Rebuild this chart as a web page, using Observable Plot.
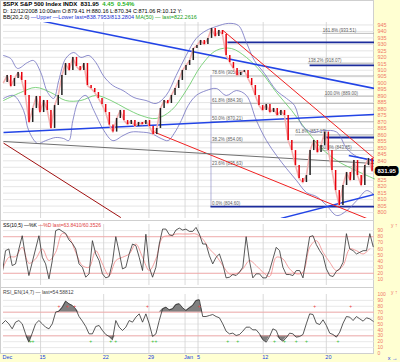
<!DOCTYPE html>
<html><head><meta charset="utf-8">
<script src="https://cdn.jsdelivr.net/npm/d3@7"></script>
<script src="https://cdn.jsdelivr.net/npm/@observablehq/plot@0.6"></script>
<style>
body{margin:0;background:#ffffd2;}
#wrap{position:relative;width:400px;height:362px;overflow:hidden;font-family:"Liberation Sans",Arial,sans-serif;}
.pnl{position:absolute;left:0;}
.bg{position:absolute;background:#fff;border:1px solid #cfcfcf;box-sizing:border-box;}
.hdr{position:absolute;left:3px;font-size:5.5px;white-space:nowrap;line-height:6px;color:#000;}
svg{display:block;overflow:visible}
</style></head>
<body><div id="wrap">
<div class="bg" style="left:0;top:0;width:374px;height:221px"></div>
<div class="bg" style="left:0;top:220px;width:374px;height:68px"></div>
<div class="bg" style="left:0;top:287px;width:374px;height:67px"></div>
<div class="pnl" id="main" style="top:0"></div>
<div class="pnl" id="ss" style="top:220px"></div>
<div class="pnl" id="rsi" style="top:287px"></div>
<div class="hdr" style="top:1px;font-size:6px;font-weight:bold">$SPX S&amp;P 500 Index INDX &nbsp;<span>831.95</span> &nbsp;<span style="color:#20b020">4.45 &nbsp;0.54%</span></div>
<div class="hdr" style="top:8px">D: 12/12/2008 10:00am O:879.41 H:880.16 L:870.34 C:871.06 R:10.12 Y:</div>
<div class="hdr" style="top:14px">BB(20,2.0) <span style="color:#2030d0">&#8212;Upper &#8212;Lower last=838.7953/813.2804</span> <span style="color:#20a020">MA(50) &#8212; last=822.2616</span></div>
<div class="hdr" style="top:222px;font-size:5px">SS(10,5) &#8212;%K <span style="color:#e04040">&#8212;%D last=63.8410/60.3526</span></div>
<div class="hdr" style="top:289px;font-size:5px;color:#444">RSI_EN(14,7) &#8212; last=54.58812</div>
</div>
<script>
// ---------- data ----------
const dateTickBars = [0, 20.3, 54.9, 79.7, 99.5, 106.6, 142.3, 176.9];
const dateTickLabels = ["Dec", "15", "22", "29", "Jan", "5", "12", "20"];
const priceTicks = d3.range(800, 946, 5);

const closeStep = 2;
const closes = [900.5, 905.9, 897.4, 903.6, 908.3, 902.1, 890.5, 869.6, 880.4, 889.7,
 877.3, 886.6, 878.9, 865.0, 882.7, 890.5, 905.9, 915.2, 909.8, 919.9,
 912.9, 909.8, 915.2, 898.2, 895.9, 892.8, 888.2, 883.5, 877.3, 867.6,
 862.2, 872.7, 878.9, 871.1, 868.0, 871.1, 866.5, 869.6, 868.0, 871.1,
 866.5, 860.3, 865.0, 880.4, 886.6, 884.3, 890.5, 895.9, 902.1, 909.8,
 913.7, 917.5, 926.8, 929.1, 933.0, 929.9, 934.6, 942.3, 936.1, 940.7,
 937.6, 921.4, 916.0, 911.4, 905.9, 908.3, 909.8, 903.6, 898.2, 890.5,
 882.7, 878.9, 883.5, 877.3, 880.4, 875.0, 878.9, 875.0, 855.7, 847.9,
 836.3, 826.3, 823.2, 828.6, 847.9, 855.7, 846.4, 851.8, 862.2, 847.9,
 832.5, 817.0, 805.4, 820.9, 830.9, 824.7, 840.2, 828.6, 820.9, 836.3,
 841.7, 831.95];

const bbUpperBar = [0,3.9,7.7,13.2,16.5,20.4,24.2,27.5,30.3,34.1,38.5,42.4,46.8,50.6,55,59.9,65.5,71.5,78.1,83.6,89.1,94.6,100.1,105.6,111.1,116.6,123.2,128.7,133.1,137.5,143,149.6,155.1,159.5,163.4,168.9,175.5,182.6,188.1,193.6,199.1,203.3];
const bbUpper = [921.4,919.1,911.4,916,917.5,908.3,892.8,888.2,902.1,919.1,923.7,919.9,921.4,916,905.2,898.2,894.3,888.9,886.6,884.3,890.5,905.9,921.4,934.6,940.7,943.8,946.2,944.6,931.5,917.5,907.5,894.3,888.2,882.7,867.6,862.2,863.4,862.2,849.5,843.3,841,838.8];
const bbLowerBar = [0,5.5,11,13.8,18.7,23.1,28.6,33,35.8,38,41.3,45.1,49.5,55,59.9,65.5,69.9,75.4,80.9,86.4,90.2,93.5,97.4,101.2,105.6,111.1,116.6,122.1,127.6,133.1,138.6,144.1,149.6,155.1,160.6,166.1,171.6,177.1,182.6,188.1,193.6,199.1,203.3];
const bbLower = [888.2,890.5,878.9,863.4,853.4,855.6,858,857.2,855.6,871.1,886.6,890.5,878.9,863.4,855.6,859.5,862.2,862.2,861.1,857.2,855.6,861.1,871.1,882.7,890.5,894.3,895.9,890.5,894.3,890.5,871.1,855.6,844.1,834,824.7,815.4,812.3,805.4,797.7,801.5,809.3,817,813.3];
const maBar = [0,9.4,17.6,25.9,34.1,42.4,50.6,58.9,67.1,75.4,83.6,91.9,100.1,108.4,116.6,124.9,133.1,141.4,149.6,157.9,166.1,174.4,182.6,190.9,203.3];
const ma50 = [886.6,892.8,896.7,892.8,886.6,886.6,890.5,886.6,880.4,875,872.7,878.9,894.3,913.7,925.3,926.8,919.9,908.3,892.8,878.9,863.4,849.5,840.2,834,826];

// trend lines (bar, price)
const trendX1 = [19.3, 0, 152, 189.2, 120.3, 81.9, 0, 0];
const trendY1 = [948.5, 861.9, 795.5, 844.1, 940.7, 862.6, 853.7, 854.9];
const trendX2 = [203.3, 203.3, 203.3, 203.3, 203.3, 203.3, 64.3, 203.3];
const trendY2 = [895.9, 875.8, 814, 840.2, 841.7, 793, 796.1, 837.9];
const trendColor = ["#2244e6", "#2244e6", "#2244e6", "#2244e6", "#f02020", "#f02020", "#a01010", "#707070"];
const trendWidth = [1.5, 1.5, 1.5, 1.5, 1, 1, 1, 1];

// fibonacci levels
const fibLeftStart = 113.7;
const fibLeftPrice = [905.6, 884.3, 870.2, 854.0, 835.6, 804.6];
const fibLeftLabel = ["78.6% (905.60)", "61.8% (884.36)", "50.0% (870.21)", "38.2% (854.06)", "23.6% (835.63)", "0.0% (804.60)"];
const fibBluePrice = [931.5, 913.7, 858.0, 804.6];
const fibBlueStart = [123, 168, 175.5, 113.7];
const fibRightPrice = [938.5, 915.5, 890.0, 860.0, 848.0];
const fibRightStart = [175, 167, 176, 160, 174];
const fibRightLabel = ["161.8% (933.51)", "138.2% (918.07)", "100.0% (889.00)", "61.8% (857.17)", "50.0% (843.85)"];

// oscillators
const oscStart = -0.73, oscStep = 1.8315;
const stochK = [19.1, 57.1, 59.9, 32.7, 35.4, 59.9, 81.6, 46.3, 16.3, 38.1,
 59.9, 81.6, 46.3, 35.4, 10.9, 40.8, 89.8, 92.5, 88.7, 85.4,
 74.6, 69.1, 59.9, 35.4, 29.9, 13.6, 19.1, 73.5, 51.7, 40.8,
 19.1, 12.5, 14.7, 38.1, 80, 55, 27.2, 29.9, 51.7, 68,
 65.3, 46.3, 24.5, 84, 30, 13.6, 29.9, 68, 92.5, 92.5,
 83.3, 81.6, 90.9, 94.1, 90.9, 92.5, 88.7, 88.7, 95.2, 84.4,
 68, 68, 49, 35.4, 46.3, 51.7, 35.4, 12.5, 13.6, 18,
 16.3, 21.8, 29.9, 80, 40, 12.5, 19.1, 19.1, 12.5, 12.5,
 24.5, 43.5, 62.6, 57.1, 29.9, 18, 18, 16.3, 24.5, 24.5,
 12.5, 46.3, 80, 81.6, 67, 57.1, 49, 27.2, 16.3, 14.7,
 23.4, 27.2, 38.1, 85, 60, 57.1, 51.7, 54.4, 57.1, 57.1,
 85, 63.8];
const stochDStep = 3.663;
const stochD = [24.5, 46.3, 47.4, 62.6, 36.5, 43.5, 59.9, 40.8, 54.4, 85.4,
 78.9, 54.4, 32.7, 29.9, 57.1, 35.4, 16.3, 40.8, 46.3, 51.7,
 68, 46.3, 24.5, 43.5, 78.9, 81.6, 84.4, 84.4, 84.4, 84.4,
 76.2, 59.9, 49, 32.7, 19.1, 19.1, 27.2, 40.8, 32.7, 21.8,
 14.7, 46.3, 43.5, 27.2, 19.1, 21.8, 62.6, 73.5, 54.4, 38.1,
 24.5, 32.7, 59.9, 57.1, 51.7, 60.4];
const rsi = [50.3, 55.9, 50.3, 41.8, 53.1, 55.9, 50.3, 33.3, 19.2, 34.5,
 50.3, 55.9, 50.3, 44.6, 41.8, 50.3, 70.1, 71.8, 78.5, 88.7,
 84.2, 81.4, 75.7, 62.7, 54.8, 45.8, 33.3, 33.3, 45.8, 47.5,
 39, 32.2, 28.8, 23.2, 55.9, 44.6, 39, 44.6, 55.9, 53.1,
 61.6, 67.2, 53.1, 67.2, 50.3, 28.8, 33.3, 55.9, 75.7, 78.5,
 74, 75.7, 83, 84.2, 77.4, 72.9, 77.4, 81.4, 89.8, 91,
 62.7, 62.7, 64.4, 66.1, 62.7, 60.5, 50.3, 37.8, 33.3, 34.5,
 30.5, 32.2, 37.8, 44.6, 44.6, 40.1, 40.1, 33.3, 23.2, 19.2,
 28.8, 41.8, 39, 24.8, 20.9, 26.5, 34.5, 33.3, 27.7, 28.8,
 32.2, 50.3, 67.2, 66.1, 51.4, 49.1, 57.1, 47.5, 34.5, 32.2,
 27.7, 36.2, 51.4, 62.7, 61.6, 55.9, 62.7, 58.7, 54.8, 60.5,
 58.7, 54.6];
const rsiHighMarks = [30.4, 35, 39, 78.9, 107.3, 170.5, 190.3];
const rsiLowMarks = [14.8, 16.1, 47.8, 58.8, 61.5, 81.7, 83.5, 122.9, 128.4, 148.5, 154, 160.4, 166, 183.3];

// ---------- build ----------
const XMAX = 203.3;
const pts = (xs, ys) => xs.map((x, i) => ({x, y: ys[i]}));
const closeData = closes.map((c, i) => ({x: i * closeStep, y: c}));
const candles = closes.slice(1).map((c, i) => ({x: (i + 1) * closeStep, o: closes[i], c}));
const trends = trendX1.map((x1, i) => ({x1, y1: trendY1[i], x2: trendX2[i], y2: trendY2[i], c: trendColor[i], w: trendWidth[i]}));
const fibLeft = fibLeftPrice.map((p, i) => ({p, label: fibLeftLabel[i]}));
const fibBlue = fibBluePrice.map((p, i) => ({p, x1: fibBlueStart[i]}));
const fibRight = fibRightPrice.map((p, i) => ({p, x1: fibRightStart[i], label: fibRightLabel[i]}));
const kData = stochK.map((v, i) => ({x: oscStart + i * oscStep, y: v}));
const dData = stochD.map((v, i) => ({x: oscStart + i * stochDStep, y: v}));
const rData = rsi.map((v, i) => ({x: oscStart + i * oscStep, y: v}));
const lastClose = closes[closes.length - 1];
// tick labels hidden behind the last-price box
const visiblePriceTicks = priceTicks.filter(t => Math.abs(t - lastClose) > 4.5);

const fontFam = "Liberation Sans, Arial, sans-serif";
const common = {
  width: 400, marginLeft: 3, marginRight: 26,
  x: {domain: [0, XMAX], axis: null},
  style: {background: "transparent", fontFamily: fontFam, overflow: "visible"}
};
const axisColor = "#f07868";

const main = Plot.plot({
  ...common, height: 220, marginTop: 22, marginBottom: 2,
  y: {domain: [795.4, 946.9], axis: null},
  marks: [
    Plot.ruleY(priceTicks, {stroke: "#dedede", strokeWidth: 0.8}),
    Plot.ruleX(dateTickBars.slice(1), {stroke: "#d0d0d0", strokeWidth: 0.8}),
    Plot.ruleY(fibLeft, {y: "p", x1: () => fibLeftStart, x2: () => XMAX, stroke: "#a0a0a0", strokeWidth: 0.7}),
    Plot.ruleX([fibLeftStart], {y1: 804.6, y2: 906, stroke: "#9090c8", strokeWidth: 0.7}),
    Plot.ruleY(fibRight, {y: "p", x1: "x1", x2: () => XMAX, stroke: "#a0a0a0", strokeWidth: 0.7}),
    Plot.ruleY(fibBlue, {y: "p", x1: "x1", x2: () => XMAX, stroke: "#1c2c9c", strokeWidth: 1.8}),
    Plot.text(fibLeft, {x: () => fibLeftStart, y: "p", text: "label", textAnchor: "start", dx: 1, dy: -3, fontSize: 4.5, fill: "#606060"}),
    Plot.text(fibRight, {x: "x1", y: "p", text: "label", textAnchor: "start", dy: -3, fontSize: 4.5, fill: "#606060"}),
    Plot.line(pts(maBar, ma50), {x: "x", y: "y", stroke: "#60c860", strokeWidth: 0.8, curve: "catmull-rom"}),
    Plot.line(pts(bbUpperBar, bbUpper), {x: "x", y: "y", stroke: "#7070c0", strokeWidth: 0.8, curve: "catmull-rom", clip: true}),
    Plot.line(pts(bbLowerBar, bbLower), {x: "x", y: "y", stroke: "#7070c0", strokeWidth: 0.8, curve: "catmull-rom", clip: true}),
    Plot.link(trends, {x1: "x1", y1: "y1", x2: "x2", y2: "y2", stroke: "c", strokeWidth: "w", clip: true}),
    Plot.line(closeData, {x: "x", y: "y", stroke: "#f4b0b0", strokeWidth: 1.6}),
    Plot.ruleX(candles, {x: "x", y1: "o", y2: "c", stroke: d => d.c < d.o ? "#e8000b" : "#202020", strokeWidth: 1.5}),
    Plot.axisY({ticks: visiblePriceTicks, anchor: "right", tickSize: 0, tickPadding: 3, fontSize: 5.5, color: axisColor, tickFormat: d => d}),
    Plot.text([lastClose], {x: () => XMAX, y: d => d, text: d => d.toFixed(2), textAnchor: "start", dx: 3, fill: "white", stroke: "black", strokeWidth: 6, fontSize: 6, fontWeight: "bold"})
  ]
});
document.getElementById("main").append(main);

const ss = Plot.plot({
  ...common, height: 67, marginTop: 4, marginBottom: 2,
  y: {domain: [0, 100], axis: null},
  marks: [
    Plot.ruleY(d3.range(10, 100, 10), {stroke: "#e2e2e2", strokeWidth: 0.8}),
    Plot.ruleX(dateTickBars.slice(1), {stroke: "#d0d0d0", strokeWidth: 0.8}),
    Plot.ruleY([20, 80], {stroke: "#f4a0a0", strokeWidth: 0.8}),
    Plot.line(dData, {x: "x", y: "y", stroke: "#f08888", strokeWidth: 0.8, curve: "catmull-rom", clip: true}),
    Plot.line(kData, {x: "x", y: "y", stroke: "#303030", strokeWidth: 0.8, clip: true}),
    Plot.axisY({ticks: d3.range(10, 100, 10), anchor: "right", tickSize: 0, tickPadding: 3, fontSize: 5, color: axisColor})
  ]
});
document.getElementById("ss").append(ss);

const rs = Plot.plot({
  ...common, height: 75, marginTop: 7, marginBottom: 9,
  y: {domain: [0, 100], axis: null},
  marks: [
    Plot.ruleY(d3.range(10, 100, 10), {stroke: "#e2e2e2", strokeWidth: 0.8}),
    Plot.ruleX(dateTickBars.slice(1), {stroke: "#d0d0d0", strokeWidth: 0.8}),
    Plot.areaY(rData, {x: "x", y1: () => 70, y2: d => Math.max(70, d.y), fill: "#808080"}),
    Plot.areaY(rData, {x: "x", y1: d => Math.min(30, d.y), y2: () => 30, fill: "#808080"}),
    Plot.ruleY([30, 70], {stroke: "#f4a0a0", strokeWidth: 0.8}),
    Plot.line(rData, {x: "x", y: "y", stroke: "#303030", strokeWidth: 0.8}),
    Plot.text(rsiHighMarks, {x: d => d, y: () => 80, text: () => "+", fill: "#f04040", fontSize: 5}),
    Plot.text(rsiLowMarks, {x: d => d, y: () => 21, text: () => "+", fill: "#30c030", fontSize: 5}),
    Plot.axisY({ticks: d3.range(0, 101, 10), anchor: "right", tickSize: 0, tickPadding: 3, fontSize: 5, color: axisColor}),
    Plot.axisX({ticks: dateTickBars, anchor: "bottom", tickSize: 0, tickPadding: 2, fontSize: 5.5, color: "#2040e0", textAnchor: "start", dx: -1,
      tickFormat: d => dateTickLabels[dateTickBars.indexOf(d)]})
  ]
});
document.getElementById("rsi").append(rs);
</script>
</body></html>
